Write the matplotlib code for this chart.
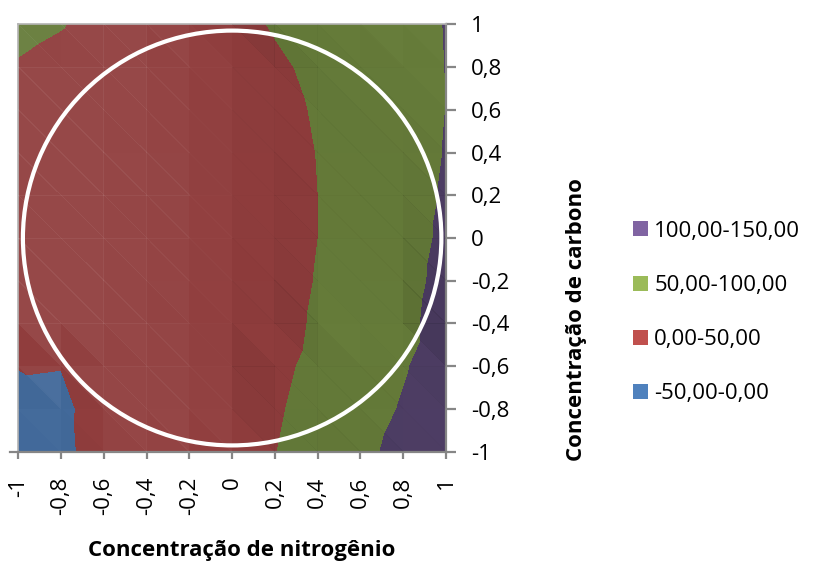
import numpy as np
import matplotlib
matplotlib.use("Agg")
import matplotlib.pyplot as plt
import matplotlib.tri as mtri
from matplotlib.patches import Patch, Ellipse
from matplotlib.collections import PolyCollection
from matplotlib.lines import Line2D

# Coded factor levels
nitrogen = [-1.0, -0.8, -0.6, -0.4, -0.2, 0.0, 0.2, 0.4, 0.6, 0.8, 1.0]
carbon = [-1.0, -0.8, -0.6, -0.4, -0.2, 0.0, 0.2, 0.4, 0.6, 0.8, 1.0]

# Response on the grid: one row per carbon level (bottom to top),
# one column per nitrogen level (left to right)
response = [
    [-15.0, -5.0, 9.0, 14.0, 20.0, 32.0, 49.0, 69.0, 90.0, 112.0, 130.0],   # C = -1.0
    [-12.0, -4.0, 8.0, 10.0, 13.0, 22.0, 45.0, 65.0, 84.0, 102.8, 120.0],   # C = -0.8
    [1.0, 0.4, 3.0, 4.0, 7.0, 16.0, 40.0, 60.0, 79.0, 97.0, 117.0],         # C = -0.6
    [24.0, 12.0, 5.0, 3.0, 5.0, 14.0, 31.0, 56.3, 71.0, 88.0, 118.0],       # C = -0.4
    [26.0, 15.0, 7.0, 5.0, 6.0, 14.0, 30.0, 52.2, 68.0, 85.0, 112.3],       # C = -0.2
    [28.0, 18.0, 10.0, 7.0, 8.0, 15.0, 30.0, 49.8, 66.0, 83.0, 107.3],      # C =  0.0
    [31.0, 21.0, 13.0, 10.0, 10.0, 17.0, 31.0, 49.8, 66.0, 83.0, 103.6],    # C =  0.2
    [35.0, 25.0, 17.0, 13.0, 13.0, 20.0, 34.0, 50.8, 67.0, 84.0, 101.3],    # C =  0.4
    [40.0, 30.0, 22.0, 17.0, 17.0, 24.0, 38.0, 53.5, 70.0, 86.0, 100.2],    # C =  0.6
    [47.0, 38.0, 28.0, 22.0, 22.0, 28.0, 42.0, 60.0, 74.0, 88.0, 100.3],    # C =  0.8
    [60.0, 52.0, 35.0, 28.0, 26.0, 34.0, 54.0, 68.0, 80.0, 90.0, 100.8],    # C =  1.0
]

# Contour bands and their legend labels
band_levels = [-50.0, 0.0, 50.0, 100.0, 150.0]
band_labels = ["-50,00-0,00", "0,00-50,00", "50,00-100,00", "100,00-150,00"]
legend_colors = ["#4F81BD", "#C0504D", "#9BBB59", "#8064A2"]
surface_colors = ["#42699A", "#903D3D", "#667C3A", "#4E3E65"]

tick_values = [-1.0, -0.8, -0.6, -0.4, -0.2, 0.0, 0.2, 0.4, 0.6, 0.8, 1.0]
tick_labels = ["-1", "-0,8", "-0,6", "-0,4", "-0,2", "0", "0,2", "0,4", "0,6", "0,8", "1"]

# Design-space circle (centre, diameters)
circle_center = (0.0, 0.0)
circle_width = 1.957
circle_height = 1.941

plt.rcParams["font.family"] = ["Open Sans", "DejaVu Sans"]

fig = plt.figure(figsize=(8.14, 5.65), dpi=100)
ax = fig.add_axes([0.0225, 0.2005, 0.5254, 0.7565])

X, Y = np.meshgrid(nitrogen, carbon)
Z = np.array(response)
nx = len(nitrogen)
ny = len(carbon)

# Triangulate each grid cell along the upper-left / lower-right diagonal
tris = []
for j in range(ny - 1):
    for i in range(nx - 1):
        a = j * nx + i
        b = j * nx + i + 1
        c = (j + 1) * nx + i
        d = (j + 1) * nx + i + 1
        tris.append([a, b, c])
        tris.append([b, d, c])
tri_idx = np.array(tris)
triang = mtri.Triangulation(X.ravel(), Y.ravel(), tri_idx)

ax.tricontourf(triang, Z.ravel(), levels=band_levels, colors=surface_colors)

# Flat lighting on each facet of the surface
pts = np.column_stack([X.ravel(), Y.ravel(), Z.ravel() * 0.0025])
p0, p1, p2 = pts[tri_idx[:, 0]], pts[tri_idx[:, 1]], pts[tri_idx[:, 2]]
normals = np.cross(p1 - p0, p2 - p0)
normals /= np.linalg.norm(normals, axis=1)[:, None]
normals *= np.sign(normals[:, 2])[:, None]
light = np.array([0.55, 0.25, 0.8])
light /= np.linalg.norm(light)
shade = normals @ light
shade = shade - np.median(shade)

facet_rgba = np.zeros((len(shade), 4))
dark = shade < 0
facet_rgba[dark, 3] = np.clip(-shade[dark] * 0.6, 0, 0.10)
facet_rgba[~dark, :3] = 1.0
facet_rgba[~dark, 3] = np.clip(shade[~dark] * 0.5, 0, 0.06)
facet_verts = np.stack([pts[tri_idx[:, k], :2] for k in range(3)], axis=1)
ax.add_collection(PolyCollection(facet_verts, facecolors=facet_rgba,
                                 edgecolors="none", antialiased=False, zorder=3))

ax.add_patch(Ellipse(circle_center, circle_width, circle_height, fill=False,
                     edgecolor="white", linewidth=3.0, zorder=5))

ax.set_xlim(-1, 1)
ax.set_ylim(-1, 1)
ax.set_xticks(tick_values)
ax.set_xticklabels(tick_labels, rotation=90, va="top", ha="center")
ax.set_yticks(tick_values)
ax.set_yticklabels(tick_labels)
ax.yaxis.tick_right()

axis_gray = "#868686"
ax.tick_params(axis="x", direction="out", length=5, width=1.6, color=axis_gray,
               pad=13, labelsize=16, labelcolor="black")
ax.tick_params(axis="y", direction="out", length=7, width=1.6, color=axis_gray,
               pad=11, labelsize=16, labelcolor="black")
for side in ("bottom", "right"):
    ax.spines[side].set_color(axis_gray)
    ax.spines[side].set_linewidth(1.6)
for side in ("top", "left"):
    ax.spines[side].set_color("#B3B3B3")
    ax.spines[side].set_linewidth(1.2)

# short outward stub at the lower-left corner of the floor
ax.add_line(Line2D([-0.02, 0.0], [0.0, 0.0], transform=ax.transAxes,
                   color=axis_gray, linewidth=1.6, clip_on=False))

ax.set_xlabel("Concentração de nitrogênio", fontsize=16, fontweight="bold")
ax.xaxis.set_label_coords(0.523, -0.232)
ax.xaxis.label.set_va("center")
ax.set_ylabel("Concentração de carbono", fontsize=16, fontweight="bold",
              rotation=90)
ax.yaxis.set_label_position("right")
ax.yaxis.set_label_coords(1.306, 0.31)
ax.yaxis.label.set_va("center")
ax.yaxis.label.set_ha("center")

handles = [Patch(facecolor=c, edgecolor="none") for c in legend_colors]
fig.legend(handles[::-1], band_labels[::-1], loc="center left",
           bbox_to_anchor=(633 / 814, 1 - 312.5 / 565), frameon=False,
           fontsize=16, handlelength=0.66, handleheight=0.66,
           handletextpad=0.3, labelspacing=1.50, borderpad=0, borderaxespad=0)

fig.savefig("out.png", dpi=100)
